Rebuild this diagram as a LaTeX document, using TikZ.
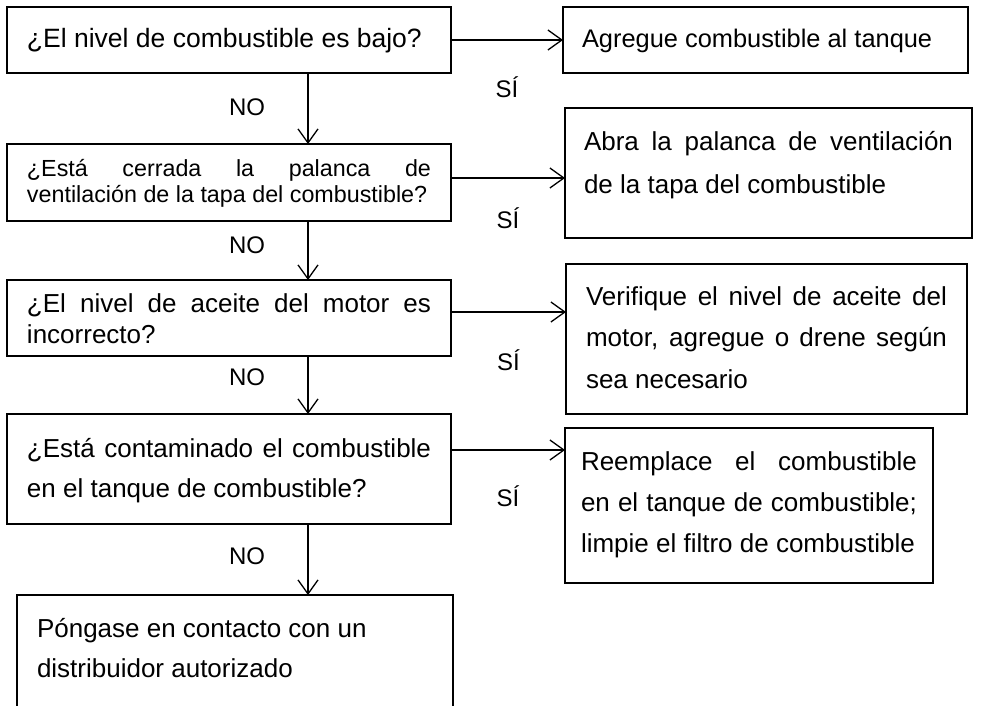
\documentclass[tikz,border=0pt]{standalone}
\usepackage{fontspec}
\setmainfont{Liberation Sans}
\usetikzlibrary{arrows.meta,calc}
\hyphenpenalty=10000
\exhyphenpenalty=10000
\tolerance=10000

\begin{document}
\begin{tikzpicture}[
  x=1pt, y=-1pt,
  line width=1.3pt,
  box/.style={draw, anchor=north west, align=justify, inner xsep=20pt, inner ysep=0pt, outer sep=0pt, text width=404pt, font=\fontsize{26}{40}\selectfont},
  yes/.style={midway, yshift=-#1, font=\fontsize{24}{24}\selectfont},
  yes/.default=46pt,
  no/.style={pos=#1, xshift=-61pt, font=\fontsize{24}{24}\selectfont},
  no/.default=0.5,
  every edge/.style={draw, -{Straight Barb[length=14pt, width=20pt]}}
]
  \clip (0,0) rectangle (990,706);

  % questions
  \node[box, text height=40.5pt, text depth=25.5pt, font=\fontsize{26.5}{30}\selectfont] (q1) at (7,7) {¿El nivel de combustible es bajo?};
  \node[box, text height=32.5pt, text depth=44.5pt, font=\fontsize{23.3}{26}\selectfont] (q2) at (7,144) {¿Está cerrada la palanca de\linebreak ventilación de la tapa del combustible?};
  \node[box, text height=32pt, text depth=44pt, font=\fontsize{26}{31}\selectfont] (q3) at (7,280) {¿El nivel de aceite del motor es\linebreak incorrecto?};
  \node[box, text height=43pt, text depth=67pt] (q4) at (7,414) {¿Está contaminado el combustible\linebreak en el tanque de combustible?};
  \node[box, text width=396pt, text height=42pt, text depth=83pt] (q5) at (17,595) {Póngase en contacto con un\\distribuidor autorizado};

  % actions
  \node[box, inner xsep=19pt, text width=367pt, text height=40.5pt, text depth=25.5pt, font=\fontsize{25.4}{30}\selectfont] (a1) at (563,7) {Agregue combustible al tanque};
  \node[box, inner xsep=19pt, text width=369pt, text height=42pt, text depth=88pt, font=\fontsize{26}{43}\selectfont] (a2) at (565,108) {Abra la palanca de ventilación\linebreak de la tapa del combustible};
  \node[box, text width=361pt, text height=41pt, text depth=109pt, font=\fontsize{26}{41.5}\selectfont] (a3) at (566,264) {Verifique el nivel de aceite del\linebreak motor, agregue o drene según\linebreak sea necesario};
  \node[box, inner xsep=16pt, text width=336pt, text height=42pt, text depth=113pt, font=\fontsize{26}{41}\selectfont] (a4) at (565,428) {Reemplace el combustible\linebreak en el tanque de combustible;\linebreak limpie el filtro de combustible};

  \coordinate (s2) at ([yshift=4.5pt]q2.east);
  \coordinate (s3) at ([yshift=6pt]q3.east);
  \coordinate (s4) at ([yshift=19pt]q4.east);
  \coordinate (d1) at ([xshift=79pt]q1.south);
  \coordinate (d2) at ([xshift=79pt]q2.south);
  \coordinate (d3) at ([xshift=79pt]q3.south);
  \coordinate (d4) at ([xshift=79pt]q4.south);

  \path (q1) edge node[yes=47pt]{SÍ} (a1);
  \path (s2) edge node[yes=40pt]{SÍ} (s2 -| a2.west);
  \path (s3) edge node[yes=48pt]{SÍ} (s3 -| a3.west);
  \path (s4) edge node[yes]{SÍ} (s4 -| a4.west);

  \path (d1) edge node[no=0.48]{NO} (d1 |- q2.north);
  \path (d2) edge node[no=0.41]{NO} (d2 |- q3.north);
  \path (d3) edge node[no=0.36]{NO} (d3 |- q4.north);
  \path (d4) edge node[no=0.46]{NO} (d4 |- q5.north);
\end{tikzpicture}
\end{document}
